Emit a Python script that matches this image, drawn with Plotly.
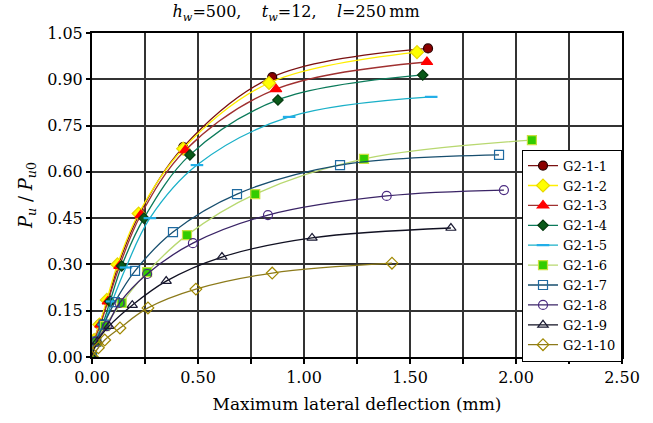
import plotly.graph_objects as go

# Load ratio vs. maximum lateral deflection for specimens G2-1-1 ... G2-1-10
x_g1 = [0, 0.01, 0.035, 0.075, 0.125, 0.225, 0.43, 0.85, 1.585]
y_g1 = [0, 0.055, 0.105, 0.185, 0.30, 0.465, 0.68, 0.907, 1.00]

x_g2 = [0, 0.01, 0.035, 0.07, 0.12, 0.22, 0.43, 0.835, 1.533]
y_g2 = [0, 0.055, 0.105, 0.185, 0.30, 0.465, 0.675, 0.888, 0.988]

x_g3 = [0, 0.01, 0.04, 0.075, 0.13, 0.23, 0.44, 0.868, 1.58]
y_g3 = [0, 0.05, 0.105, 0.18, 0.295, 0.46, 0.67, 0.868, 0.956]

x_g4 = [0, 0.015, 0.05, 0.085, 0.14, 0.245, 0.462, 0.877, 1.56]
y_g4 = [0, 0.05, 0.105, 0.18, 0.295, 0.45, 0.655, 0.833, 0.914]

x_g5 = [0, 0.015, 0.055, 0.095, 0.16, 0.273, 0.495, 0.93, 1.60]
y_g5 = [0, 0.05, 0.105, 0.18, 0.29, 0.45, 0.622, 0.778, 0.843]

x_g6 = [0, 0.02, 0.06, 0.14, 0.26, 0.448, 0.77, 1.283, 2.075]
y_g6 = [0, 0.05, 0.10, 0.175, 0.275, 0.395, 0.528, 0.642, 0.703]

x_g7 = [0, 0.02, 0.055, 0.108, 0.203, 0.382, 0.684, 1.17, 1.92]
y_g7 = [0, 0.05, 0.105, 0.178, 0.279, 0.405, 0.528, 0.622, 0.655]

x_g8 = [0, 0.02, 0.07, 0.13, 0.26, 0.476, 0.83, 1.39, 1.943]
y_g8 = [0, 0.05, 0.10, 0.175, 0.269, 0.369, 0.46, 0.522, 0.541]

x_g9 = [0, 0.025, 0.08, 0.19, 0.35, 0.613, 1.038, 1.693]
y_g9 = [0, 0.05, 0.10, 0.168, 0.246, 0.324, 0.386, 0.418]

x_g10 = [0, 0.03, 0.06, 0.132, 0.264, 0.49, 0.85, 1.415]
y_g10 = [0, 0.03, 0.055, 0.094, 0.159, 0.22, 0.272, 0.304]

series_names = ["G2-1-1", "G2-1-2", "G2-1-3", "G2-1-4", "G2-1-5",
                "G2-1-6", "G2-1-7", "G2-1-8", "G2-1-9", "G2-1-10"]

# Axis ticks: labelled x every 0.50 with a gridline every 0.25; y every 0.15
x_max = 2.5
y_max = 1.05
x_major_step = 0.5
x_minor_step = 0.25
y_step = 0.15

xs = [x_g1, x_g2, x_g3, x_g4, x_g5, x_g6, x_g7, x_g8, x_g9, x_g10]
ys = [y_g1, y_g2, y_g3, y_g4, y_g5, y_g6, y_g7, y_g8, y_g9, y_g10]

# (line colour, marker symbol, marker fill, marker edge, marker size)
styles = [
    ("#7a1010", "circle", "#8b0000", "#2a0000", 9),
    ("#ffee00", "diamond", "#ffff00", "#e8d800", 10),
    ("#a03030", "triangle-up", "#ff0000", "#ff0000", 10),
    ("#0b7a5a", "diamond", "#0a5a1a", "#063a10", 8),
    ("#1ab0c8", "line-ew", "#22aee8", "#22aee8", 9),
    ("#b8d870", "square", "#33cc00", "#c8e040", 9),
    ("#174e6e", "square-open", "#1f6aa0", "#1f6aa0", 9),
    ("#3a2466", "circle-open", "#4a2a80", "#4a2a80", 9),
    ("#111122", "triangle-up-open", "#1a1a33", "#1a1a33", 9),
    ("#8c7a1a", "diamond-open", "#a08800", "#a08800", 9),
]

font_family = "DejaVu Serif"
grid_col = "#333333"

fig = go.Figure()
for name, xv, yv, (lc, sym, fill, edge, size) in zip(series_names, xs, ys, styles):
    edge_w = 2.2 if sym == "line-ew" else 1.2
    fig.add_trace(go.Scatter(
        x=xv, y=yv, name=name, mode="lines+markers",
        line=dict(color=lc, width=1.3, shape="spline", smoothing=1.0),
        marker=dict(symbol=sym, size=size, color=fill,
                    line=dict(color=edge, width=edge_w)),
    ))

fig.update_layout(
    width=653, height=423,
    margin=dict(l=92, r=31, t=33, b=66),
    paper_bgcolor="white", plot_bgcolor="white",
    font=dict(family=font_family, size=16, color="black"),
    title=dict(
        text="<i>h</i><sub><i>w</i></sub>=500,&nbsp;&nbsp;&nbsp; <i>t</i><sub><i>w</i></sub>=12,&nbsp;&nbsp;&nbsp; <i>l</i>=250\u2009mm",
        x=0.385, xref="paper", xanchor="center", y=0.972, yanchor="middle",
        font=dict(family=font_family, size=16),
    ),
    showlegend=True,
    legend=dict(
        x=1.0, xanchor="right", y=0.64, yanchor="top",
        bgcolor="white", bordercolor="black", borderwidth=1,
        font=dict(family=font_family, size=13),
        itemwidth=30, tracegroupgap=0,
    ),
)

fig.update_xaxes(
    range=[0, x_max], tickmode="linear", tick0=0, dtick=x_major_step, tickformat=".2f",
    showgrid=True, gridcolor=grid_col, gridwidth=2,
    minor=dict(tickmode="linear", tick0=0, dtick=x_minor_step, showgrid=True,
               gridcolor=grid_col, gridwidth=2,
               ticks="outside", ticklen=5, tickwidth=1.5, tickcolor="black"),
    showline=True, linecolor="black", linewidth=2, mirror=True,
    ticks="outside", ticklen=5, tickwidth=1.5, tickcolor="black",
    zeroline=False,
    title=dict(text="Maximum lateral deflection (mm)", standoff=12,
               font=dict(family=font_family, size=17)),
)
fig.update_yaxes(
    range=[0, y_max], tickmode="linear", tick0=0, dtick=y_step, tickformat=".2f",
    showgrid=True, gridcolor=grid_col, gridwidth=2,
    showline=True, linecolor="black", linewidth=2, mirror=True,
    ticks="outside", ticklen=4, tickwidth=1.5, tickcolor="black",
    zeroline=False,
    title=dict(text="<i>P</i><sub><i>u</i></sub> / <i>P</i><sub><i>u</i>0</sub>", standoff=10,
               font=dict(family=font_family, size=18)),
)

fig.write_html("out.html")
